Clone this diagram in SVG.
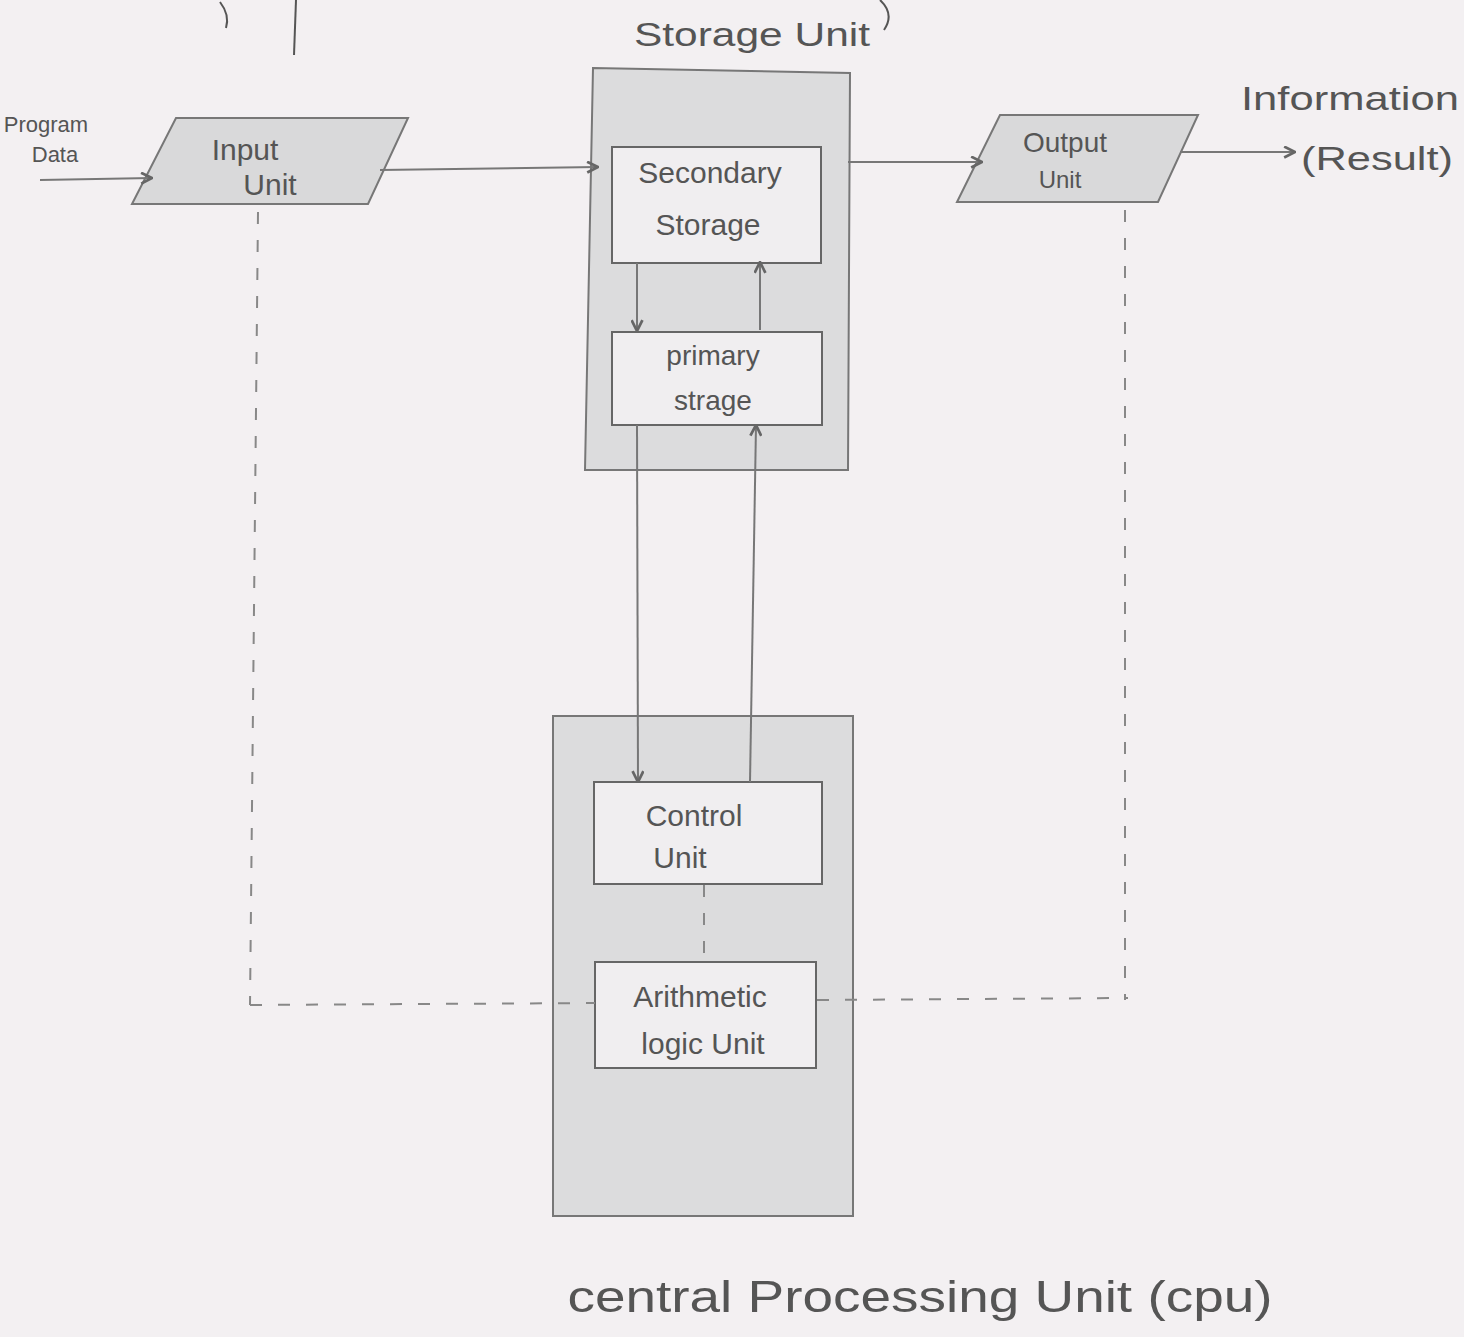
<svg xmlns="http://www.w3.org/2000/svg" width="1464" height="1337" viewBox="0 0 1464 1337">
<defs>
<marker id="ah" viewBox="0 0 12 12" refX="11" refY="6" markerWidth="13" markerHeight="13" markerUnits="userSpaceOnUse" orient="auto">
<path d="M1,1 L11,6 L1,11" fill="none" stroke="#666" stroke-width="2.5"/>
</marker>
<style>
.bg{fill:#f3f0f2}
.outer{fill:#dcdcdd;stroke:#777;stroke-width:2}
.inner{fill:#f0eef0;stroke:#666;stroke-width:2}
.para{fill:#d9d9da;stroke:#777;stroke-width:2}
.t{font-family:"Liberation Sans",Arial,sans-serif;fill:#555;text-anchor:middle}
.arr{stroke:#777;stroke-width:2;fill:none;marker-end:url(#ah)}
.dash{stroke:#888;stroke-width:2;fill:none;stroke-dasharray:12 16}
.mark{stroke:#555;stroke-width:2;fill:none}
</style>
</defs>
<rect class="bg" x="0" y="0" width="1464" height="1337"/>
<g id="marks">
<path class="mark" d="M220,2 Q230,15 226,28"/>
<path class="mark" d="M296,0 L294,55"/>
<path class="mark" d="M880,0 Q895,14 884,30"/>
</g>
<g id="storage-unit">
<path class="outer" d="M593,68 L850,73 L848,470 L585,470 L593,68 Z"/>
<text class="t" x="752" y="46" font-size="34" textLength="236" lengthAdjust="spacingAndGlyphs">Storage Unit</text>
</g>
<g id="cpu">
<rect class="outer" x="553" y="716" width="300" height="500"/>
<text class="t" x="920" y="1312" font-size="44" textLength="705" lengthAdjust="spacingAndGlyphs">central Processing Unit (cpu)</text>
</g>
<g id="program-data">
<text class="t" x="46" y="132" font-size="22">Program</text>
<text class="t" x="55" y="162" font-size="22">Data</text>
</g>
<g id="input-unit">
<polygon class="para" points="176,118 408,118 368,204 132,204"/>
<text class="t" x="245" y="160" font-size="30">Input</text>
<text class="t" x="270" y="195" font-size="30">Unit</text>
</g>
<g id="secondary-storage">
<rect class="inner" x="612" y="147" width="209" height="116"/>
<text class="t" x="710" y="183" font-size="30">Secondary</text>
<text class="t" x="708" y="235" font-size="30">Storage</text>
</g>
<g id="primary-storage">
<rect class="inner" x="612" y="332" width="210" height="93"/>
<text class="t" x="713" y="365" font-size="28">primary</text>
<text class="t" x="713" y="410" font-size="28">strage</text>
</g>
<g id="control-unit">
<rect class="inner" x="594" y="782" width="228" height="102"/>
<text class="t" x="694" y="826" font-size="30">Control</text>
<text class="t" x="680" y="868" font-size="30">Unit</text>
</g>
<g id="alu">
<rect class="inner" x="595" y="962" width="221" height="106"/>
<text class="t" x="700" y="1007" font-size="30">Arithmetic</text>
<text class="t" x="703" y="1054" font-size="30">logic Unit</text>
</g>
<g id="output-unit">
<polygon class="para" points="1000,115 1198,115 1158,202 957,202"/>
<text class="t" x="1065" y="152" font-size="28">Output</text>
<text class="t" x="1060" y="188" font-size="24">Unit</text>
</g>
<g id="information">
<text class="t" x="1350" y="110" font-size="34" textLength="218" lengthAdjust="spacingAndGlyphs">Information</text>
<text class="t" x="1377" y="170" font-size="34" textLength="152" lengthAdjust="spacingAndGlyphs">(Result)</text>
</g>
<g id="connectors">
<line class="arr" x1="40" y1="180" x2="152" y2="178"/>
<line class="arr" x1="380" y1="170" x2="598" y2="167"/>
<line class="arr" x1="848" y1="162" x2="982" y2="162"/>
<line class="arr" x1="1180" y1="152" x2="1295" y2="152"/>
<line class="arr" x1="637" y1="263" x2="637" y2="331"/>
<line class="arr" x1="760" y1="330" x2="760" y2="262"/>
<line class="arr" x1="637" y1="425" x2="638" y2="782"/>
<line class="arr" x1="750" y1="782" x2="756" y2="425"/>
<line class="dash" x1="704" y1="885" x2="704" y2="962" stroke-dasharray="8 14"/>
<line class="dash" x1="258" y1="212" x2="250" y2="1005"/>
<line class="dash" x1="1125" y1="210" x2="1125" y2="1000"/>
<line class="dash" x1="250" y1="1005" x2="595" y2="1003"/>
<line class="dash" x1="817" y1="1000" x2="1128" y2="998" stroke-dasharray="8 12"/>
</g>
</svg>
